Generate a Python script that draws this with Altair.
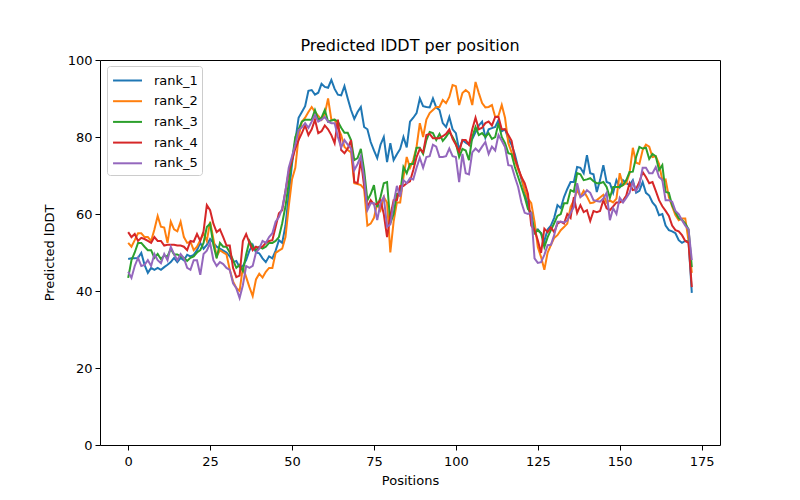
import altair as alt
import pandas as pd

series_names = ["rank_1", "rank_2", "rank_3", "rank_4", "rank_5"]
colors = ["#1f77b4", "#ff7f0e", "#2ca02c", "#d62728", "#9467bd"]

rank_1 = [48.3, 48.5, 48.5, 48.6, 49.9, 46.8, 44.7, 46.0, 45.5, 46.0,
          45.5, 46.2, 46.8, 47.5, 48.6, 47.5, 48.6, 48.0, 49.4, 49.0,
          49.4, 50.6, 52.5, 51.0, 52.0, 53.5, 52.5, 51.5, 51.0, 50.5,
          50.0, 49.0, 47.5, 47.8, 46.2, 46.5, 48.0, 50.5, 52.0, 50.0,
          49.8, 48.5, 47.5, 49.0, 48.5, 50.5, 53.2, 52.5, 57.0, 65.0,
          73.0, 79.0, 85.0, 86.5, 88.0, 92.0, 92.2, 91.0, 91.5, 93.8,
          93.0, 92.8, 94.8, 92.5, 91.0, 90.8, 93.2, 90.0, 87.0, 84.7,
          86.5, 87.8, 82.6, 82.0, 78.7, 76.5, 74.5, 78.0, 80.0, 73.5,
          78.4, 74.0, 75.5, 76.9, 80.0, 77.3, 84.0, 85.0, 86.2, 90.0,
          88.0, 87.8, 87.7, 90.0, 87.7, 87.0, 83.6, 82.6, 85.2, 82.0,
          81.0, 76.6, 79.2, 78.5, 78.0, 79.5, 81.3, 83.0, 84.0, 79.8,
          82.0, 82.3, 82.6, 84.4, 81.5, 82.0, 79.5, 78.0, 75.5, 72.0,
          69.0, 66.0, 62.0, 59.0, 55.8, 56.0, 55.0, 53.0, 56.0, 57.0,
          59.0, 62.3, 61.5, 64.4, 66.5, 68.3, 68.3, 72.2, 72.0, 70.6,
          75.3, 70.6, 70.3, 65.7, 68.8, 72.7, 68.3, 68.0, 65.5, 68.8,
          67.0, 68.8, 68.0, 67.5, 68.8, 65.5, 66.0, 68.3, 65.5, 64.8,
          63.0, 62.0, 59.7, 60.0, 57.0, 55.8, 55.5, 55.0, 53.2, 52.5,
          53.0, 53.0, 39.5]

rank_2 = [52.5, 51.5, 53.2, 55.0, 55.0, 54.0, 54.0, 53.0, 56.0, 59.5,
          56.7, 56.5, 52.5, 58.0, 56.0, 55.5, 58.0, 54.0, 52.5, 52.8,
          50.6, 51.5, 53.2, 55.0, 53.0, 58.0, 53.5, 49.0, 50.6, 50.0,
          49.5, 45.5, 42.5, 40.8, 40.0, 46.2, 43.6, 41.0, 38.7, 43.0,
          44.5, 43.5, 45.0, 46.0, 46.0, 49.9, 50.5, 51.0, 54.0, 62.0,
          69.0, 72.0, 80.0, 84.0, 85.0, 86.5, 87.8, 86.5, 85.5, 84.5,
          86.0, 90.0, 84.5, 84.5, 82.4, 80.5, 77.4, 76.6, 76.0, 68.0,
          67.8, 67.5, 66.5, 57.0, 57.5, 59.0, 62.8, 61.0, 64.4, 63.0,
          50.0, 58.0, 63.0, 63.0, 69.6, 74.8, 72.0, 74.0, 77.4, 83.6,
          80.0, 84.5, 86.2, 87.0, 87.8, 87.8, 89.6, 88.8, 90.4, 93.5,
          93.2, 88.3, 91.4, 92.2, 91.5, 88.3, 94.3, 91.4, 88.8, 87.7,
          87.8, 88.3, 85.2, 85.5, 88.3, 85.0, 78.4, 76.0, 74.0, 71.5,
          69.6, 66.2, 64.0, 62.8, 58.0, 51.4, 48.8, 45.5, 50.0, 51.9,
          53.8, 54.5, 55.8, 56.6, 57.5, 61.8, 63.6, 66.2, 64.5, 66.0,
          64.5, 62.8, 63.0, 63.6, 64.3, 65.0, 63.0, 63.5, 63.0, 64.0,
          70.6, 67.5, 68.0, 70.6, 77.2, 73.3, 73.0, 76.6, 78.0, 77.5,
          74.8, 75.0, 73.0, 68.8, 69.0, 64.4, 62.0, 59.7, 58.4, 58.8,
          58.8, 53.0, 44.7]

rank_3 = [43.4, 48.0, 50.0, 52.5, 52.5, 51.5, 50.6, 50.6, 48.6, 49.6,
          48.3, 49.2, 49.0, 51.0, 49.5, 49.5, 49.0, 48.6, 47.8, 48.6,
          49.0, 50.0, 50.6, 52.5, 56.6, 57.5, 52.0, 48.5, 52.5, 51.5,
          51.5, 50.0, 48.0, 46.0, 46.8, 45.2, 49.5, 53.0, 51.5, 50.6,
          51.5, 51.0, 51.5, 52.5, 52.5, 53.0, 54.0, 57.6, 62.0, 68.0,
          74.0, 80.0, 82.0, 84.0, 84.5, 84.5, 84.5, 87.0, 84.5, 85.0,
          87.0, 84.0, 84.3, 84.5, 84.0, 82.4, 81.1, 81.1, 79.2, 74.0,
          74.5, 76.9, 71.4, 63.6, 65.2, 67.5, 61.8, 64.4, 68.0, 68.3,
          57.6, 60.0, 65.2, 65.2, 72.2, 70.6, 73.0, 73.0, 77.2, 77.2,
          75.6, 79.2, 81.3, 81.0, 79.2, 80.8, 79.0, 80.0, 81.3, 80.0,
          78.4, 74.8, 76.9, 76.5, 74.0, 80.0, 82.6, 80.5, 81.0, 80.0,
          81.0, 79.5, 80.0, 83.6, 80.0, 78.4, 75.8, 75.5, 72.2, 69.6,
          67.0, 64.4, 61.3, 60.3, 55.0, 55.8, 55.0, 51.4, 54.0, 55.8,
          57.6, 59.5, 60.0, 62.8, 62.8, 66.2, 65.8, 70.6, 70.3, 68.8,
          69.0, 69.3, 68.5, 68.0, 68.0, 68.3, 67.0, 64.2, 67.0, 67.0,
          67.0, 67.5, 68.8, 70.9, 71.0, 74.8, 77.4, 77.0, 77.2, 74.3,
          75.6, 75.0, 71.4, 72.7, 65.7, 65.5, 62.3, 60.5, 58.9, 58.5,
          57.5, 56.0, 46.2]

rank_4 = [55.3, 54.0, 54.8, 53.0, 53.8, 53.5, 53.0, 52.5, 54.0, 53.0,
          53.0, 51.8, 52.0, 52.0, 52.0, 51.8, 51.8, 51.5, 50.6, 53.0,
          52.8, 54.8, 53.0, 55.5, 62.3, 61.0, 57.5, 55.3, 56.0, 54.0,
          51.8, 51.8, 46.0, 43.6, 44.0, 53.0, 54.8, 52.5, 50.6, 51.5,
          51.2, 51.5, 52.5, 53.0, 53.2, 56.7, 60.2, 61.0, 66.0, 71.0,
          74.0, 77.0, 79.2, 81.0, 83.0, 80.5, 82.0, 84.5, 81.0, 81.5,
          83.0, 82.0, 80.5, 78.4, 84.5, 76.6, 75.8, 77.0, 79.2, 68.3,
          68.0, 74.0, 67.3, 61.8, 63.6, 62.5, 62.6, 63.6, 60.0, 54.0,
          59.5, 63.6, 63.6, 67.3, 67.3, 68.0, 68.5, 71.4, 74.8, 76.9,
          76.0, 80.5, 80.8, 79.7, 79.7, 79.7, 80.2, 80.8, 82.0, 79.5,
          78.0, 76.2, 79.2, 79.2, 78.0, 82.0, 85.0, 82.0, 82.4, 83.6,
          84.0, 83.0, 85.2, 85.2, 82.0, 82.0, 80.5, 79.0, 74.5, 72.0,
          69.6, 68.0, 65.2, 57.0, 55.8, 53.2, 49.9, 56.2, 55.3, 56.5,
          55.3, 57.5, 58.0, 57.5, 60.0, 59.0, 64.4, 60.3, 62.3, 60.5,
          61.0, 58.2, 60.8, 60.5, 60.8, 63.6, 61.5, 61.0, 62.0, 63.0,
          63.0, 63.5, 64.8, 68.0, 66.2, 66.5, 68.3, 70.9, 69.6, 68.0,
          68.3, 66.0, 63.6, 62.0, 60.8, 59.5, 57.0, 55.8, 55.5, 54.5,
          53.0, 52.5, 41.0]

rank_5 = [45.0, 43.4, 46.5, 48.6, 46.5, 46.8, 48.0, 46.5, 49.6, 48.0,
          47.2, 49.6, 48.0, 51.5, 49.6, 48.0, 49.6, 48.5, 46.0, 45.5,
          48.0, 48.0, 44.2, 49.6, 50.5, 52.5, 48.0, 46.5, 47.5, 47.0,
          46.0, 45.5, 42.0, 40.7, 38.2, 41.5, 46.5, 46.0, 46.5, 50.0,
          51.0, 53.0, 52.5, 54.0, 55.0, 58.0, 59.2, 61.5, 66.0, 72.0,
          75.0, 78.0, 81.8, 82.5, 83.6, 82.4, 84.0, 85.7, 84.0, 84.5,
          85.2, 84.0, 83.6, 83.6, 80.0, 77.3, 79.2, 78.0, 77.0, 71.4,
          73.0, 75.0, 69.3, 61.0, 62.8, 62.8, 58.4, 62.8, 64.4, 56.7,
          57.3, 62.8, 67.3, 64.5, 68.8, 68.0, 69.3, 69.0, 72.0, 74.6,
          72.0, 74.8, 75.0, 78.0, 77.5, 74.8, 74.8, 75.0, 77.0, 75.0,
          74.8, 68.3, 75.6, 70.6, 70.3, 76.0, 77.0, 76.2, 77.5, 78.7,
          75.6, 77.5, 76.5, 80.5, 79.0, 77.4, 72.7, 72.5, 69.6, 67.0,
          63.0, 60.3, 60.0, 60.3, 48.5, 47.3, 47.5, 49.4, 51.9, 52.0,
          54.5, 58.0, 58.0, 57.8, 58.3, 60.3, 61.8, 68.0, 64.4, 65.0,
          66.2, 65.5, 63.6, 63.4, 63.2, 64.0, 65.5, 58.4, 61.5, 60.0,
          64.2, 63.0, 64.2, 65.5, 68.3, 66.0, 67.5, 72.0, 72.0, 70.6,
          70.6, 72.2, 69.6, 68.8, 63.6, 63.6, 63.2, 60.8, 60.0, 58.4,
          57.0, 56.0, 48.0]

all_series = [rank_1, rank_2, rank_3, rank_4, rank_5]
rows = []
for name, vals in zip(series_names, all_series):
    for i, v in enumerate(vals):
        rows.append({"Positions": i, "value": v, "series": name})
df = pd.DataFrame(rows)

FONT = "DejaVu Sans"

chart = alt.Chart(df).mark_line(strokeWidth=2, clip=True).encode(
    x=alt.X("Positions:Q",
            scale=alt.Scale(domain=[-8.6, 180.6], nice=False, zero=False),
            axis=alt.Axis(values=[0, 25, 50, 75, 100, 125, 150, 175], title="Positions",
                          grid=False, format="d", labelPadding=5, titlePadding=6)),
    y=alt.Y("value:Q",
            scale=alt.Scale(domain=[0, 100], nice=False),
            axis=alt.Axis(values=[0, 20, 40, 60, 80, 100], title="Predicted lDDT",
                          grid=False, titlePadding=11)),
    color=alt.Color("series:N",
                    scale=alt.Scale(domain=series_names, range=colors),
                    legend=alt.Legend(title=None, orient="none", legendX=7, legendY=6,
                                      symbolType="M-0.89,0L2.16,0", symbolStrokeWidth=2,
                                      symbolSize=361, labelFontSize=13, labelFont=FONT,
                                      labelColor="#000000", labelOffset=22,
                                      rowPadding=2.7, padding=4,
                                      fillColor="white", strokeColor="#cccccc",
                                      cornerRadius=3)),
    detail="series:N",
).properties(
    width=620, height=385,
    title=alt.TitleParams("Predicted lDDT per position", fontSize=16, font=FONT,
                          fontWeight="normal", color="#000000", offset=0, frame="group"),
    autosize=alt.AutoSizeParams(type="none"),
    padding={"left": 92, "top": 52, "right": 72, "bottom": 47},
).configure_view(
    stroke="#000000", strokeWidth=1
).configure_axis(
    domain=False, tickColor="#000000", tickSize=5, tickWidth=1,
    labelFont=FONT, labelFontSize=13, labelColor="#000000", labelPadding=3,
    titleFont=FONT, titleFontSize=13, titleFontWeight="normal", titleColor="#000000",
)

chart.save("out.html", embed_options={"renderer": "svg", "actions": False})
